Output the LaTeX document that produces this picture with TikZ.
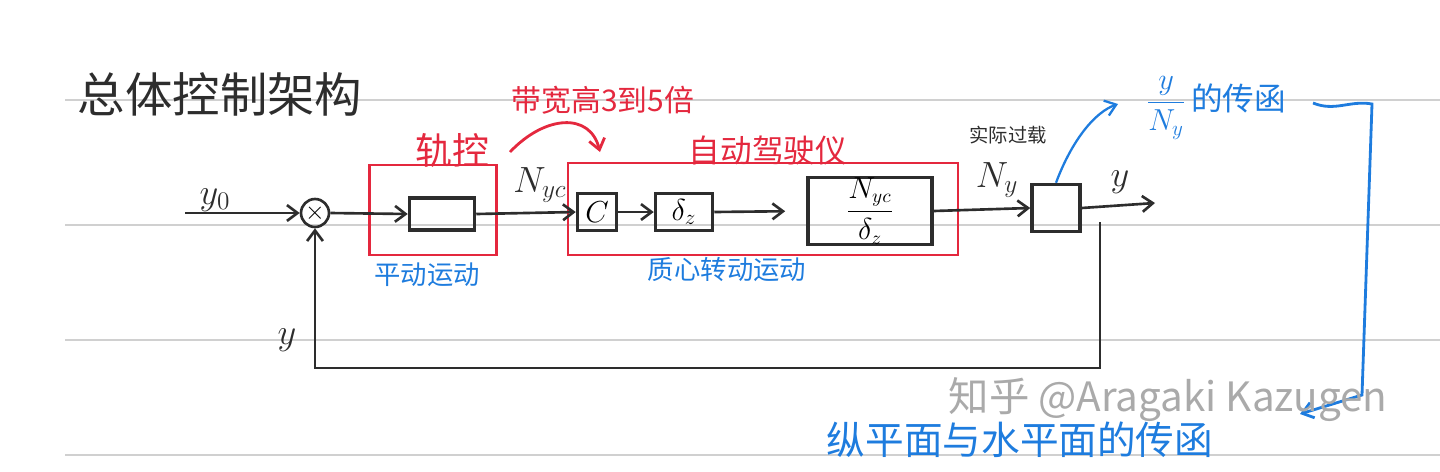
\documentclass[tikz,border=0pt]{standalone}
\usepackage{fontspec}
\newfontfamily\cjk{Noto Sans CJK SC}
\usepackage{amsmath,amssymb}
\usetikzlibrary{arrows.meta}
\definecolor{pen}{RGB}{45,45,45}
\definecolor{redpen}{RGB}{228,40,62}
\definecolor{bluepen}{RGB}{30,124,222}
\definecolor{rulecol}{RGB}{208,208,208}
\definecolor{markcol}{RGB}{170,170,170}

\begin{document}
\begin{tikzpicture}[x=0.02cm, y=-0.02cm, >={Straight Barb[length=6pt,width=9pt]},
    line/.style={pen, line width=1.5pt},
    blk/.style={draw=pen, line width=2pt, inner sep=0pt},
    frame/.style={draw=redpen, line width=1.6pt, inner sep=0pt},
    lbl/.style={text=pen, font=\fontsize{20}{24}\selectfont},
    redtxt/.style={text=redpen, font=\cjk\fontsize{#1}{#1}\selectfont},
    bluetxt/.style={text=bluepen, font=\cjk\fontsize{#1}{#1}\selectfont}]
    \useasboundingbox (0,0) rectangle (1440,471);

    % Notebook lines
    \foreach \yy in {100,225,340,455}
        \draw[rulecol, line width=0.8pt] (65,\yy) -- (1440,\yy);

    % Title
    \node[text=pen, font=\cjk\fontsize{27}{30}\selectfont] (title) at (220,94) {总体控制架构};

    % Red frames
    \node[frame, minimum width=2.54cm, minimum height=1.8cm] (guidance) at (433,210) {};
    \node[frame, minimum width=7.8cm, minimum height=1.84cm] (autopilot) at (763,209) {};
    \node[redtxt=21] (gk) at (452,150) {轨控};
    \node[redtxt=18] (ap) at (768,150) {自动驾驶仪};
    \node[redtxt=17] (bw) at (603,100) {带宽高3到5倍};

    % Blocks
    \node[draw=pen, circle, line width=1.5pt, minimum size=0.56cm, inner sep=0pt,
          font=\fontsize{14}{14}\selectfont] (sum) at (315,213) {$\times$};
    \node[blk, minimum width=1.3cm, minimum height=0.64cm] (kbox) at (442,214) {};
    \node[blk, minimum width=0.78cm, minimum height=0.74cm, font=\fontsize{18}{20}\selectfont] (cbox) at (597,212) {$C$};
    \node[blk, minimum width=1.14cm, minimum height=0.74cm, font=\fontsize{18}{20}\selectfont] (dbox) at (684,212) {$\delta_z$};
    \node[blk, minimum width=2.48cm, minimum height=1.16cm, font=\fontsize{16}{18}\selectfont] (abox) at (870,211) {$\dfrac{N_{yc}}{\delta_z}$};
    \node[blk, minimum width=0.96cm, minimum height=0.94cm] (pbox) at (1056,208) {};

    \coordinate (in) at (185,213);
    \coordinate (out) at (1155,203);
    \coordinate (fb) at (1100,222);

    % Forward path
    \draw[line, ->] (in) -- (sum.west);
    \draw[line, ->] (sum.east) -- (kbox.west);
    \draw[line, ->] (kbox.east) -- (cbox.west);
    \draw[line, ->] (cbox.east) -- (dbox.west);
    \draw[line, ->, shorten >=12pt] (dbox.east) -- (abox.west);
    \draw[line, ->] (abox.east) -- (pbox.west);
    \draw[line, ->] (pbox.east) -- (out);

    % Feedback
    \draw[line, ->] (fb) -- (1100,368) -| (sum.south);

    % Signal labels
    \node[lbl] (y0) at (215,200) {$y_0$};
    \node[lbl] (nyc) at (540,185) {$N_{yc}$};
    \node[lbl] (ny) at (997,180) {$N_y$};
    \node[lbl] (yout) at (1120,182) {$y$};
    \node[lbl] (yfb) at (287,340) {$y$};
    \node[text=pen, font=\cjk\fontsize{11}{12}\selectfont] (load) at (1008,135) {实际过载};

    % Blue notes
    \node[bluetxt=15] (trans) at (427,275) {平动运动};
    \node[bluetxt=15] (rot) at (727,270) {质心转动运动};
    \node[bluetxt=18, anchor=west] (tf) at (1140,108) {$\dfrac{y}{N_y}$\,的传函};
    \node[bluetxt=22] (planes) at (1020,440) {纵平面与水平面的传函};
    \coordinate (tfa) at (1118,104);
    \draw[bluepen, line width=1.3pt, ->] (pbox.north) .. controls (1072,140) and (1095,112) .. (tfa);
    \draw[bluepen, line width=1.6pt, ->] (1313,103) .. controls (1335,112) and (1350,100) .. (1372,104)
        -- (1362,395) -- (1300,414);

    % Red remark arrow
    \coordinate (bw1) at (510,152);
    \coordinate (bw2) at (600,152);
    \draw[redpen, line width=1.6pt, ->] (bw1) .. controls (545,115) and (590,112) .. (bw2);

    % Watermark
    \node[text=markcol, font=\cjk\fontsize{23}{25}\selectfont] (mark) at (1168,400) {知乎 @Aragaki Kazugen};
\end{tikzpicture}
\end{document}
